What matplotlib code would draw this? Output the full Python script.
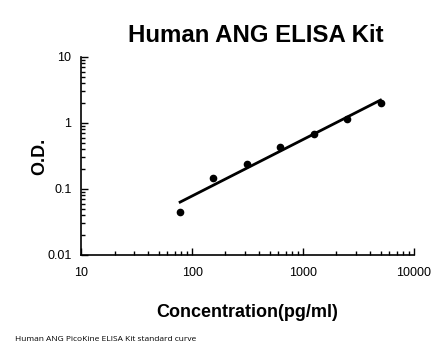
import numpy as np
import matplotlib
matplotlib.use("Agg")
import matplotlib.pyplot as plt
from matplotlib.ticker import LogLocator, NullFormatter, FixedLocator, FixedFormatter

plt.rcParams['font.family'] = ['Liberation Sans', 'DejaVu Sans']

# standard curve values
conc = [78, 156, 312, 625, 1250, 2500, 5000]
od = [0.044, 0.145, 0.24, 0.43, 0.69, 1.14, 1.99]

xticks = [10, 100, 1000, 10000]
xtick_labels = ["10", "100", "1000", "10000"]
yticks = [0.01, 0.1, 1, 10]
ytick_labels = ["0.01", "0.1", "1", "10"]

# power fit in log space, as the trend line
k, b = np.polyfit(np.log10(conc), np.log10(od), 1)
fit_x = np.array([conc[0], conc[-1]])
fit_y = 10 ** (k * np.log10(fit_x) + b)

fig = plt.figure(figsize=(4.46, 3.56), dpi=100)
ax = fig.add_axes([0.182, 0.284, 0.746, 0.556])

ax.plot(fit_x, fit_y, color="black", lw=2)
ax.plot(conc, od, "o", color="black", ms=4.5)

ax.set_xscale("log")
ax.set_yscale("log")
ax.set_xlim(10, 10000)
ax.set_ylim(0.01, 10)

ax.xaxis.set_major_locator(FixedLocator(xticks))
ax.xaxis.set_major_formatter(FixedFormatter(xtick_labels))
ax.yaxis.set_major_locator(FixedLocator(yticks))
ax.yaxis.set_major_formatter(FixedFormatter(ytick_labels))
ax.xaxis.set_minor_locator(LogLocator(base=10, subs=np.arange(2, 10)))
ax.yaxis.set_minor_locator(LogLocator(base=10, subs=np.arange(2, 10)))
ax.xaxis.set_minor_formatter(NullFormatter())
ax.yaxis.set_minor_formatter(NullFormatter())

ax.tick_params(which="major", direction="in", length=5, width=1, labelsize=9)
ax.tick_params(axis="x", which="major", pad=9)
ax.tick_params(axis="y", which="major", pad=7)
ax.tick_params(which="minor", direction="in", length=3, width=1)
for s in ["top", "right"]:
    ax.spines[s].set_visible(False)
for s in ["left", "bottom"]:
    ax.spines[s].set_linewidth(1.2)

ax.set_xlabel("Concentration(pg/ml)", fontsize=13, fontweight="bold", labelpad=18)
ax.set_ylabel("O.D.", fontsize=13, fontweight="bold", labelpad=-1)
fig.text(0.574, 0.90, "Human ANG ELISA Kit", fontsize=17.3, fontweight="bold",
         ha="center", va="center")
fig.text(0.034, 0.045, "Human ANG PicoKine ELISA Kit standard curve", fontsize=6,
         family=["Open Sans", "DejaVu Sans"], ha="left", va="center")

fig.savefig("out.png", dpi=100)
